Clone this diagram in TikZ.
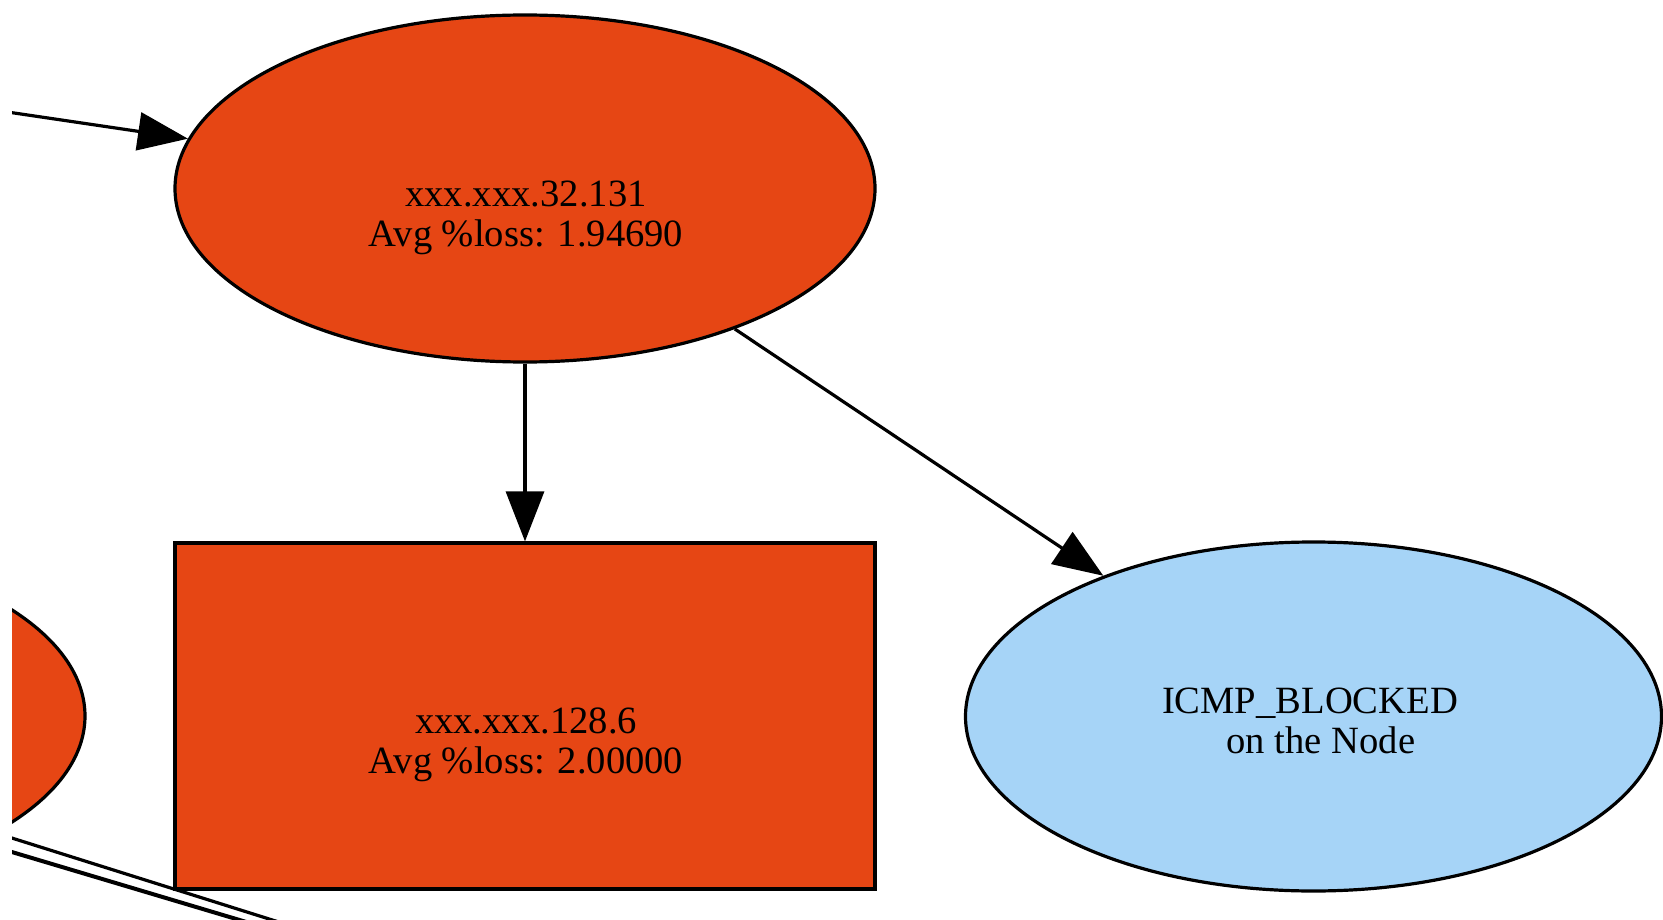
\documentclass[tikz,border=0pt]{standalone}
\usepackage{fontspec}
\setmainfont{Liberation Serif}
\usetikzlibrary{shapes.geometric,arrows.meta}
\definecolor{lossred}{RGB}{230,70,20}
\definecolor{blockedblue}{RGB}{166,212,247}
\begin{document}
\begin{tikzpicture}[x=1pt,y=-1pt,
  every node/.style={font=\fontsize{38.6}{39.5}\selectfont},
  hop/.style={ellipse,draw=black,line width=3.2pt,fill=lossred,
    minimum width=700pt,minimum height=347pt,inner sep=0pt},
  hopbox/.style={rectangle,draw=black,line width=3.2pt,fill=lossred,
    minimum width=700pt,minimum height=346pt,inner sep=0pt},
  blocked/.style={ellipse,draw=black,line width=3.2pt,fill=blockedblue,
    minimum width=696pt,minimum height=349pt,inner sep=0pt},
  txt/.style={align=center,inner sep=0pt},
  link/.style={line width=3.2pt,draw=black},
  arr/.style={link,-{Triangle[length=50pt,width=38pt]}}
]
\useasboundingbox (0,0) rectangle (1663,920);
\begin{scope}
\clip (12,0) rectangle (1663,920);

% hosts
\node[hop] (h32) at (525,188.5) {};
\node[txt] (h32t) at (526,218) {xxx.xxx.32.131\\Avg \%loss: 1.94690};

\node[hopbox] (h128) at (525,716) {};
\node[txt] (h128t) at (526,745) {xxx.xxx.128.6\\Avg \%loss: 2.00000};

\node[blocked] (icmp) at (1313.5,716.5) {};
\node[txt] (icmpt) at (1310,721) {ICMP\_BLOCKED\\\hspace*{22pt}on the Node};

\node[hop] (hleft) at (-265,716) {};

% links
\coordinate (from32) at (-40,105);
\draw[arr] (from32) -- (h32);
\draw[arr] (h32) -- (h128);
\draw[arr] (h32) -- (icmp);

\coordinate (la) at (-20,828);
\coordinate (lb) at (320,935);
\coordinate (lc) at (-20,842.5);
\coordinate (ld) at (320,944);
\draw[link] (la) -- (lb);
\draw[link,line width=4pt] (lc) -- (ld);
\end{scope}
\end{tikzpicture}
\end{document}
